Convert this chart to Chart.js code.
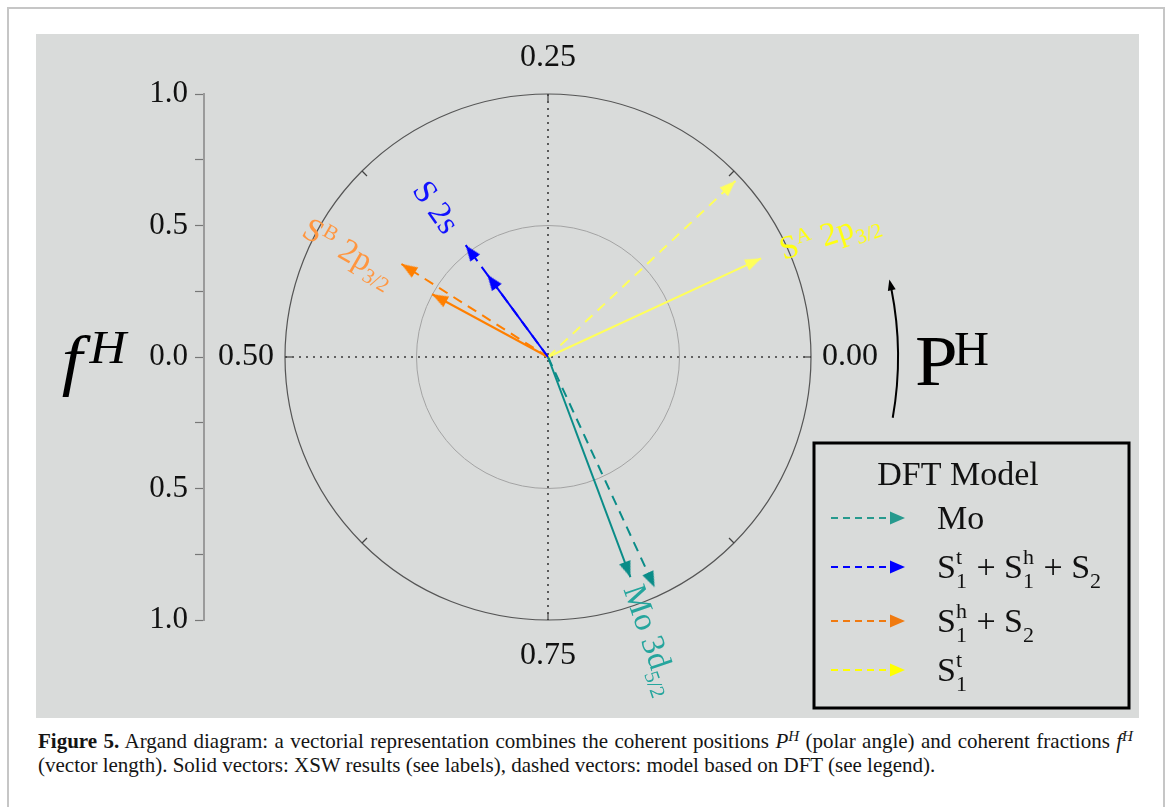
<!DOCTYPE html>
<html>
<head>
<meta charset="utf-8">
<script src="https://cdn.jsdelivr.net/npm/chart.js@4.4.1/dist/chart.umd.min.js"></script>
<style>
html,body{margin:0;padding:0;background:#fff;width:1168px;height:807px;overflow:hidden;font-family:'Liberation Serif','Times New Roman',serif;}
#frame{position:absolute;left:7px;top:7px;width:1154px;height:840px;border:2px solid #c6c6c6;border-bottom:none;}
#plot{position:absolute;left:36px;top:34px;width:1103px;height:684px;background:#d9dbda;}
#c{display:block;}
.cap{position:absolute;left:38px;width:1095px;font-size:21px;line-height:24px;color:#151515;white-space:nowrap;}
#cap1{top:729px;text-align:justify;text-align-last:justify;white-space:normal;}
#cap2{top:753px;}
sup{font-size:0.72em;line-height:0;vertical-align:0.45em;}
</style>
</head>
<body>
<div id="frame"></div>
<div id="plot"><canvas id="c" width="1103" height="684" style="width:1103px;height:684px"></canvas></div>
<div class="cap" id="cap1"><b>Figure 5.</b> Argand diagram: a vectorial representation combines the coherent positions <i>P</i><sup><i>H</i></sup> (polar angle) and coherent fractions <i>f</i><sup><i>H</i></sup></div>
<div class="cap" id="cap2">(vector length). Solid vectors: XSW results (see labels), dashed vectors: model based on DFT (see legend).</div>
<script>
// ---------- data ----------
// XSW results (solid vectors)
const xswLabels   = ['Mo 3d_{5/2}', 'S 2s', 'S^B 2p_{3/2}', 'S^A 2p_{3/2}'];
const xswPosition = [0.807, 0.351, 0.421, 0.069];   // P^H (polar angle, fraction of 2π)
const xswFraction = [0.894, 0.389, 0.501, 0.893];   // f^H (vector length)
// DFT model (dashed vectors)
const dftLabels   = ['Mo', 'S_1^t + S_1^h + S_2', 'S_1^h + S_2', 'S_1^t'];
const dftPosition = [0.819, 0.351, 0.410, 0.120];
const dftFraction = [0.965, 0.528, 0.660, 0.978];
// tick labels
const fractionTickLabels = ['1.0', '0.5', '0.0', '0.5', '1.0'];
const positionTickValues = [0.00, 0.25, 0.50, 0.75];
const positionTickLabels = ['0.00', '0.25', '0.50', '0.75'];

// ---------- styles ----------
const FONT = "'Liberation Serif','Times New Roman',serif";
const vecColors   = ['#0a8c88', '#0000ff', '#ff7f00', '#ffff5a'];
const labelColors = ['#25a59d', '#1212ff', '#ff9640', '#ffff10'];
const legendColors= ['#279a8e', '#0000ff', '#f07a10', '#ffff00'];
const labelRadius   = [0.928, 0.817, 1.048, 0.973];
const labelRotation = [71, 55, 30, -18];

function arrowHead(color, len, wid) {
  const c = document.createElement('canvas');
  c.width = Math.round(wid) + 2; c.height = 2 * len + 2;
  const g = c.getContext('2d');
  g.fillStyle = color;
  const cx = c.width / 2, tip = c.height / 2;
  g.beginPath(); g.moveTo(cx, tip); g.lineTo(cx + wid / 2, tip + len); g.lineTo(cx - wid / 2, tip + len); g.closePath(); g.fill();
  return c;
}

function toXY(f, P) { const a = 2 * Math.PI * P; return {x: f * Math.cos(a), y: f * Math.sin(a)}; }

const datasets = [];
function addVector(f, P, color, dashed) {
  const head = arrowHead(color, 16, 12);
  const rot = 90 - 360 * P;
  datasets.push({
    data: [{x: 0, y: 0}, toXY(f, P)],
    showLine: true,
    borderColor: color,
    backgroundColor: color,
    borderWidth: 2,
    borderDash: dashed ? [10, 7] : [],
    pointRadius: (ctx) => ctx.dataIndex === 1 ? 6 : 0,
    pointStyle: (ctx) => ctx.dataIndex === 1 ? head : 'circle',
    pointRotation: (ctx) => ctx.dataIndex === 1 ? rot : 0,
    tension: 0
  });
}
for (let i = 0; i < xswLabels.length; i++) addVector(xswFraction[i], xswPosition[i], vecColors[i], false);
for (let i = 0; i < dftLabels.length; i++) addVector(dftFraction[i], dftPosition[i], vecColors[i], true);

// rich text: supports X_a, X^b, X_{..}^{..}
function parseRich(s) {
  const out = []; let i = 0, buf = '';
  while (i < s.length) {
    const ch = s[i];
    if (ch === '_' || ch === '^') {
      if (buf) { out.push({k: 'n', t: buf}); buf = ''; }
      let sub = null, sup = null;
      while (i < s.length && (s[i] === '_' || s[i] === '^')) {
        const m = s[i]; i++;
        let arg;
        if (s[i] === '{') { const j = s.indexOf('}', i); arg = s.slice(i + 1, j); i = j + 1; }
        else { arg = s[i]; i++; }
        if (m === '_') sub = arg; else sup = arg;
      }
      out.push({k: 's', sub, sup});
    } else { buf += ch; i++; }
  }
  if (buf) out.push({k: 'n', t: buf});
  return out;
}
function drawRich(ctx, s, x, y, size, small, supDy, subDy, family) {
  const toks = parseRich(s); let cx = x;
  for (const t of toks) {
    if (t.k === 'n') {
      ctx.font = size + 'px ' + family; ctx.fillText(t.t, cx, y); cx += ctx.measureText(t.t).width;
    } else {
      ctx.font = small + 'px ' + family; let w = 0;
      if (t.sup) { ctx.fillText(t.sup, cx, y + supDy); w = Math.max(w, ctx.measureText(t.sup).width); }
      if (t.sub) { ctx.fillText(t.sub, cx, y + subDy); w = Math.max(w, ctx.measureText(t.sub).width); }
      cx += w + 1;
    }
  }
  return cx - x;
}
// draw a glyph so that its ink fills the given box (horizontal stretch limited)
function fitText(ctx, text, font, box, align) {
  ctx.save();
  ctx.textAlign = 'left'; ctx.textBaseline = 'alphabetic';
  ctx.font = font.replace('{s}', 100);
  let m = ctx.measureText(text);
  const s = 100 * box.h / (m.actualBoundingBoxAscent + m.actualBoundingBoxDescent);
  ctx.font = font.replace('{s}', s.toFixed(2));
  m = ctx.measureText(text);
  const w = m.actualBoundingBoxLeft + m.actualBoundingBoxRight;
  const sx = Math.max(0.9, Math.min(1.08, box.w / w));
  const free = box.w - w * sx;
  const off = align === 'right' ? free : align === 'left' ? 0 : free / 2;
  ctx.translate(box.l + off, box.t + m.actualBoundingBoxAscent);
  ctx.scale(sx, 1);
  ctx.fillText(text, m.actualBoundingBoxLeft, 0);
  ctx.restore();
}

const argandPlugin = {
  id: 'argand',
  beforeDatasetsDraw(chart) {
    const ctx = chart.ctx, xs = chart.scales.x, ys = chart.scales.y;
    const cx = xs.getPixelForValue(0), cy = ys.getPixelForValue(0);
    const R = xs.getPixelForValue(1) - cx;
    const pol = (r, P) => { const p = toXY(r, P); return [xs.getPixelForValue(p.x), ys.getPixelForValue(p.y)]; };
    ctx.save();
    // inner circle
    ctx.strokeStyle = '#a3a3a3'; ctx.lineWidth = 1;
    ctx.beginPath(); ctx.arc(cx, cy, R * 0.5, 0, 2 * Math.PI); ctx.stroke();
    // outer circle
    ctx.strokeStyle = '#555'; ctx.lineWidth = 1.2;
    ctx.beginPath(); ctx.arc(cx, cy, R, 0, 2 * Math.PI); ctx.stroke();
    // crosshair
    ctx.strokeStyle = '#3a3a3a'; ctx.lineWidth = 1.6; ctx.setLineDash([2, 5]);
    let a = pol(1, 0.5), b = pol(1, 0);
    ctx.beginPath(); ctx.moveTo(a[0], a[1]); ctx.lineTo(b[0], b[1]); ctx.stroke();
    a = pol(1, 0.25); b = pol(1, 0.75);
    ctx.beginPath(); ctx.moveTo(a[0], a[1]); ctx.lineTo(b[0], b[1]); ctx.stroke();
    ctx.setLineDash([]);
    // ticks on the outer circle
    ctx.strokeStyle = '#444'; ctx.lineWidth = 1.2;
    for (let k = 0; k < 8; k++) {
      const p1 = pol(1, k / 8), p2 = pol(1 - 7 / R, k / 8);
      ctx.beginPath(); ctx.moveTo(p1[0], p1[1]); ctx.lineTo(p2[0], p2[1]); ctx.stroke();
    }
    // polar tick labels
    ctx.fillStyle = '#111'; ctx.font = '32px ' + FONT; ctx.textBaseline = 'middle';
    positionTickValues.forEach((P, i) => {
      const p = pol(1, P);
      const dx = Math.cos(2 * Math.PI * P), dy = -Math.sin(2 * Math.PI * P);
      if (Math.abs(dx) > 0.5) {
        ctx.textAlign = dx > 0 ? 'left' : 'right';
        ctx.fillText(positionTickLabels[i], p[0] + dx * 11, p[1]);
      } else {
        ctx.textAlign = 'center';
        ctx.fillText(positionTickLabels[i], p[0], p[1] + dy * 36);
      }
    });
    ctx.restore();
  },
  afterDraw(chart) {
    const ctx = chart.ctx, xs = chart.scales.x, ys = chart.scales.y;
    const cx = xs.getPixelForValue(0), cy = ys.getPixelForValue(0);
    const R = xs.getPixelForValue(1) - cx;
    const pol = (r, P) => { const p = toXY(r, P); return [xs.getPixelForValue(p.x), ys.getPixelForValue(p.y)]; };
    ctx.save();
    // vector labels
    ctx.textAlign = 'left'; ctx.textBaseline = 'alphabetic';
    xswLabels.forEach((lab, i) => {
      const p = pol(labelRadius[i], xswPosition[i]);
      ctx.save();
      ctx.translate(p[0], p[1]);
      ctx.rotate(labelRotation[i] * Math.PI / 180);
      ctx.fillStyle = labelColors[i];
      drawRich(ctx, lab, 0, 11, 33, 21, -11, 8, FONT);
      ctx.restore();
    });
    // axis titles
    ctx.fillStyle = '#000';
    fitText(ctx, 'f', 'italic {s}px ' + FONT, {l: 7, t: 301, w: 48, h: 63}, 'right');
    fitText(ctx, 'H', 'italic {s}px ' + FONT, {l: 52, t: 298, w: 42, h: 31});
    fitText(ctx, 'P', '{s}px ' + FONT, {l: 881, t: 304, w: 38, h: 48});
    fitText(ctx, 'H', '{s}px ' + FONT, {l: 919, t: 299, w: 33, h: 32});
    // curved arrow (direction of increasing P^H)
    const pr = 1.331;
    ctx.strokeStyle = '#000'; ctx.lineWidth = 2;
    const a0 = 10 * Math.PI / 180, a1 = -11.2 * Math.PI / 180;
    ctx.beginPath(); ctx.arc(cx, cy, R * pr, a0, a1, true); ctx.stroke();
    const ta = -12.8 * Math.PI / 180;
    const tx = cx + R * pr * Math.cos(ta), ty = cy + R * pr * Math.sin(ta);
    const dirx = Math.sin(ta), diry = -Math.cos(ta);
    ctx.fillStyle = '#000';
    ctx.beginPath(); ctx.moveTo(tx, ty);
    ctx.lineTo(tx - dirx * 11 + diry * 4, ty - diry * 11 - dirx * 4);
    ctx.lineTo(tx - dirx * 11 - diry * 4, ty - diry * 11 + dirx * 4);
    ctx.closePath(); ctx.fill();
    // legend
    const L = {x: 778, y: 409, w: 315, h: 265};
    ctx.strokeStyle = '#000'; ctx.lineWidth = 3;
    ctx.strokeRect(L.x, L.y, L.w, L.h);
    ctx.fillStyle = '#111'; ctx.font = '34px ' + FONT; ctx.textAlign = 'center'; ctx.textBaseline = 'alphabetic';
    ctx.fillText('DFT Model', L.x + 144, L.y + 42);
    const rows = [484, 533, 587, 636];
    ctx.textAlign = 'left';
    dftLabels.forEach((lab, i) => {
      const y = rows[i];
      ctx.strokeStyle = legendColors[i]; ctx.lineWidth = 2; ctx.setLineDash([7, 5]);
      ctx.beginPath(); ctx.moveTo(L.x + 17, y); ctx.lineTo(L.x + 78, y); ctx.stroke();
      ctx.setLineDash([]);
      ctx.fillStyle = legendColors[i];
      ctx.beginPath(); ctx.moveTo(L.x + 91, y); ctx.lineTo(L.x + 76, y - 6.5); ctx.lineTo(L.x + 76, y + 6.5); ctx.closePath(); ctx.fill();
      ctx.fillStyle = '#111';
      drawRich(ctx, lab, L.x + 123, y + 11, 34, 22, -14, 10, FONT);
    });
    ctx.restore();
  }
};

new Chart(document.getElementById('c'), {
  type: 'scatter',
  data: {datasets},
  options: {
    responsive: false,
    animation: false,
    events: [],
    layout: {padding: {left: 68, right: 247, top: 60, bottom: 98}},
    plugins: {legend: {display: false}, tooltip: {enabled: false}},
    scales: {
      x: {type: 'linear', min: -1.308, max: 1.308, display: false},
      y: {
        type: 'linear', min: -1, max: 1, position: 'left',
        afterFit: (s) => { s.width = 100; },
        border: {display: true, color: '#9a9a9a', width: 2},
        grid: {display: true, drawOnChartArea: false, drawTicks: true, tickLength: 9, tickColor: '#777', tickWidth: 1.2},
        ticks: {
          stepSize: 0.25, padding: 7, color: '#111', font: {family: FONT, size: 31},
          callback: (v) => {
            const k = Math.round(v * 4);
            if (k % 2 !== 0) return '';
            return fractionTickLabels[(4 - k) / 2];
          }
        }
      }
    }
  },
  plugins: [argandPlugin]
});
</script>
</body>
</html>
